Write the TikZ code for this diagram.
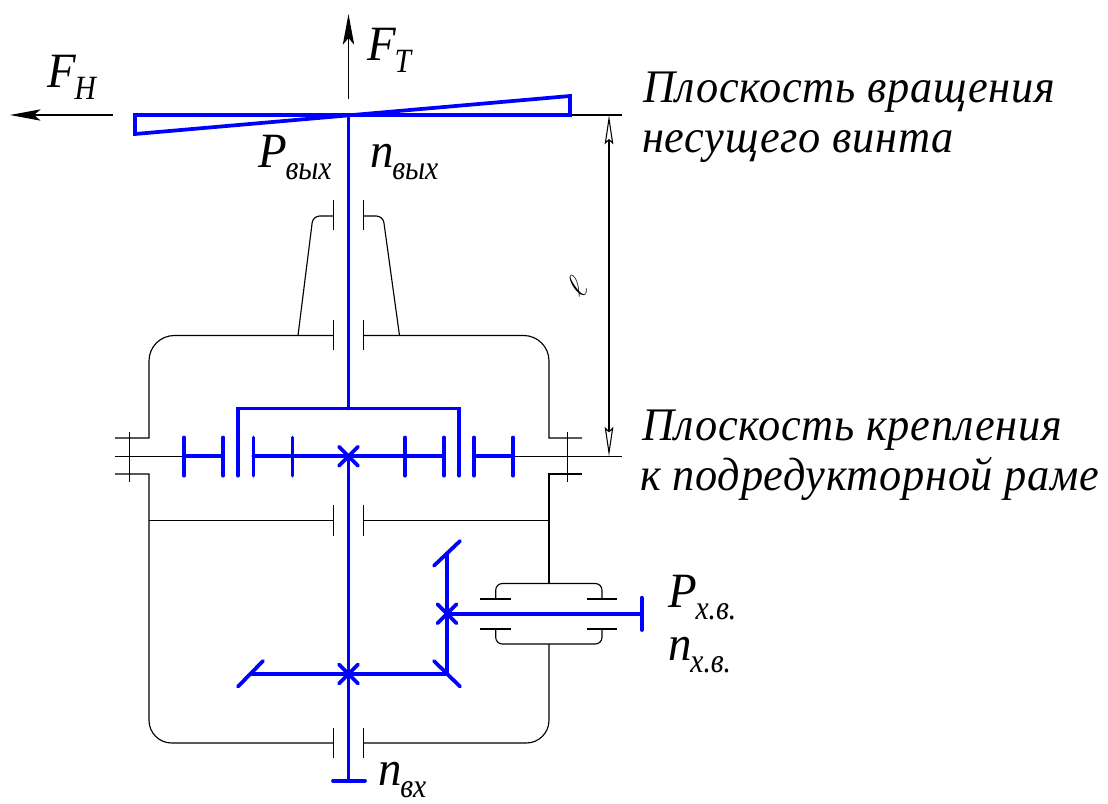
\documentclass[tikz,border=0pt]{standalone}
\usepackage{fontspec}
\setmainfont{Liberation Serif}
\newfontfamily\captionfont[LetterSpace=1.5,FakeStretch=0.95]{Liberation Serif}
\newfontfamily\symbolfont[FakeStretch=0.95]{Liberation Serif}
\newfontfamily\indexfont[FakeStretch=0.87]{Liberation Serif}
\usepackage{xcolor}
\usetikzlibrary{positioning,arrows.meta}
\definecolor{shaftblue}{RGB}{0,0,255}
\newcommand{\bigfont}{\fontsize{37}{40}\selectfont\symbolfont\itshape}
\newcommand{\subfont}{\fontsize{25.5}{28}\selectfont\indexfont\itshape}
\newcommand{\symsub}[2]{#1\kern-1pt\raisebox{-9pt}{\subfont #2}}
\tikzset{
  body/.style={draw=black,line width=0.85pt},
  shaft/.style={draw=shaftblue,line width=2.8pt,line cap=round},
  force/.style={draw=black,line width=0.8pt,-{Stealth[length=23pt,width=8.5pt,inset=5pt]}},
  dimen/.style={draw=black,line width=0.8pt,{Stealth[open,length=22pt,width=6.5pt,inset=3pt]}-{Stealth[open,length=22pt,width=6.5pt,inset=3pt]}},
  symbol/.style={anchor=base west,inner sep=0pt,font=\bigfont},
  caption/.style={anchor=base west,inner sep=0pt,font=\fontsize{35}{38}\selectfont\captionfont\itshape}
}
\begin{document}
\begin{tikzpicture}[x=0.75pt,y=-0.75pt]
\useasboundingbox (0,0) rectangle (1108,804);
% Housing
\draw[body] (333.7,335.5) [rounded corners=19pt] -- (149,335.5) [sharp corners] -- (149,438) -- (115,438); % top left
\draw[body] (363.7,335.5) [rounded corners=19pt] -- (549,335.5) [sharp corners] -- (549,438) -- (582,438); % top right
\draw[body] (115,474) -- (149,474) [rounded corners=17pt] -- (149,743) [sharp corners] -- (333.7,743); % bottom left
\draw[body] (363.7,743) [rounded corners=17pt] -- (549,743) [sharp corners] -- (549,644); % bottom right
\draw[body] (549,583.5) -- (549,474) -- (582,474); % right wall
\draw[body] (149,520.4) -- (333.7,520.4); % partition left
\draw[body] (363.7,520.4) -- (549,520.4); % partition right
% Mast cone
\draw[body,rounded corners=5pt] (298,335.5) -- (313,216) -- (333.7,216); % cone left
\draw[body,rounded corners=5pt] (399.5,335.5) -- (383,216) -- (363.7,216); % cone right
% Side cover
\draw[body,rounded corners=5pt] (495.7,599) -- (495.7,583.5) -- (602,583.5) -- (602,599); % cover top
\draw[body,rounded corners=5pt] (495.7,629) -- (495.7,644) -- (602,644) -- (602,629); % cover bottom
% Bearings
\draw[body] (333.7,200) -- (333.7,230); % upper left
\draw[body] (363.7,200) -- (363.7,230); % upper right
\draw[body] (333.7,320) -- (333.7,350); % lid left
\draw[body] (363.7,320) -- (363.7,350); % lid right
\draw[body] (333.7,505) -- (333.7,535.5); % partition left
\draw[body] (363.7,505) -- (363.7,535.5); % partition right
\draw[body] (333.7,728) -- (333.7,758); % lower left
\draw[body] (363.7,728) -- (363.7,758); % lower right
\draw[body] (480,599) -- (510.7,599); % side top left
\draw[body] (586.7,599) -- (617.3,599); % side top right
\draw[body] (480,629) -- (510.7,629); % side bottom left
\draw[body] (586.7,629) -- (617.3,629); % side bottom right
% Flange marks
\draw[body] (129.7,431.7) -- (129.7,481.7); % left mark
\draw[body] (567.7,431.7) -- (567.7,481.7); % right mark
\draw[body] (115,456.3) -- (184,456.3); % fixing plane left
\draw[body] (513,456.3) -- (622,456.3); % fixing plane right
% Dimension
\draw[body] (570,115) -- (622,115); % rotor plane
\draw[dimen] (609,115) -- (609,456.3); % height
\node[rotate=50,inner sep=0pt] (height) at (577,287) {\fontsize{50}{52}\selectfont$\ell$};
% Forces
\draw[force] (348.5,99) -- (348.5,14); % thrust
\draw[force] (113,115) -- (10,115); % drag
% Rotor and main shaft
\draw[shaft,line join=miter] (135,115) -- (570,115) -- (570,96) -- (135,134) -- cycle; % blade
\draw[shaft] (348.5,115) -- (348.5,408.5); % upper shaft
\draw[shaft] (238,475.7) -- (238,408.5) -- (459,408.5) -- (459,475.7); % carrier
\draw[shaft] (348.5,456.3) -- (348.5,780.7); % lower shaft
\draw[shaft] (333,780.7) -- (365,780.7); % input bar
% Planetary row
\draw[shaft] (184,456.3) -- (223,456.3); % left gear
\draw[shaft] (184,437.5) -- (184,475.7);
\draw[shaft] (223,437.5) -- (223,475.7);
\draw[shaft] (253.5,456.3) -- (444,456.3); % sun shaft
\draw[shaft] (253.5,437.5) -- (253.5,475.7);
\draw[shaft] (292.5,437.5) -- (292.5,475.7);
\draw[shaft] (405,437.5) -- (405,475.7);
\draw[shaft] (444,437.5) -- (444,475.7);
\draw[shaft] (474,456.3) -- (513,456.3); % right gear
\draw[shaft] (474,437.5) -- (474,475.7);
\draw[shaft] (513,437.5) -- (513,475.7);
\draw[shaft] (339,446.8) -- (358,465.8); % cross
\draw[shaft] (339,465.8) -- (358,446.8);
% Bevel drive
\draw[shaft] (251,674) -- (447,674) -- (447,554); % bevel shafts
\draw[shaft] (238,686.5) -- (263,661); % left bevel
\draw[shaft] (434,661) -- (460,686.5); % lower bevel
\draw[shaft] (434,565.7) -- (460,541); % upper bevel
\draw[shaft] (339,664.5) -- (358,683.5); % cross
\draw[shaft] (339,683.5) -- (358,664.5);
\draw[shaft] (447,613.7) -- (641.7,613.7); % tail shaft
\draw[shaft] (641.7,597.7) -- (641.7,630); % tail bar
\draw[shaft] (437.5,604.2) -- (456.5,623.2); % cross
\draw[shaft] (437.5,623.2) -- (456.5,604.2);
% Labels
\node[symbol] (fh) at (47,87) {\symsub{F}{H}};
\node[symbol] (ft) at (367,60) {\symsub{F}{T}};
\node[symbol] (pout) at (258,167) {\symsub{P}{вых}};
\node[symbol] (nout) at (370,167) {\symsub{n}{вых}};
\node[symbol] (ptail) at (668,607) {\symsub{P}{х.в.}};
\node[symbol] (ntail) at (668,660) {\symsub{n}{х.в.}};
\node[symbol] (nin) at (378,785) {\symsub{n}{вх}};
\node[caption] (rotor1) at (643,102) {Плоскость вращения};
\node[caption] (rotor2) at (642,152) {несущего винта};
\node[caption] (frame1) at (642,440) {Плоскость крепления};
\node[caption] (frame2) at (640,490) {к подредукторной раме};
\end{tikzpicture}
\end{document}
